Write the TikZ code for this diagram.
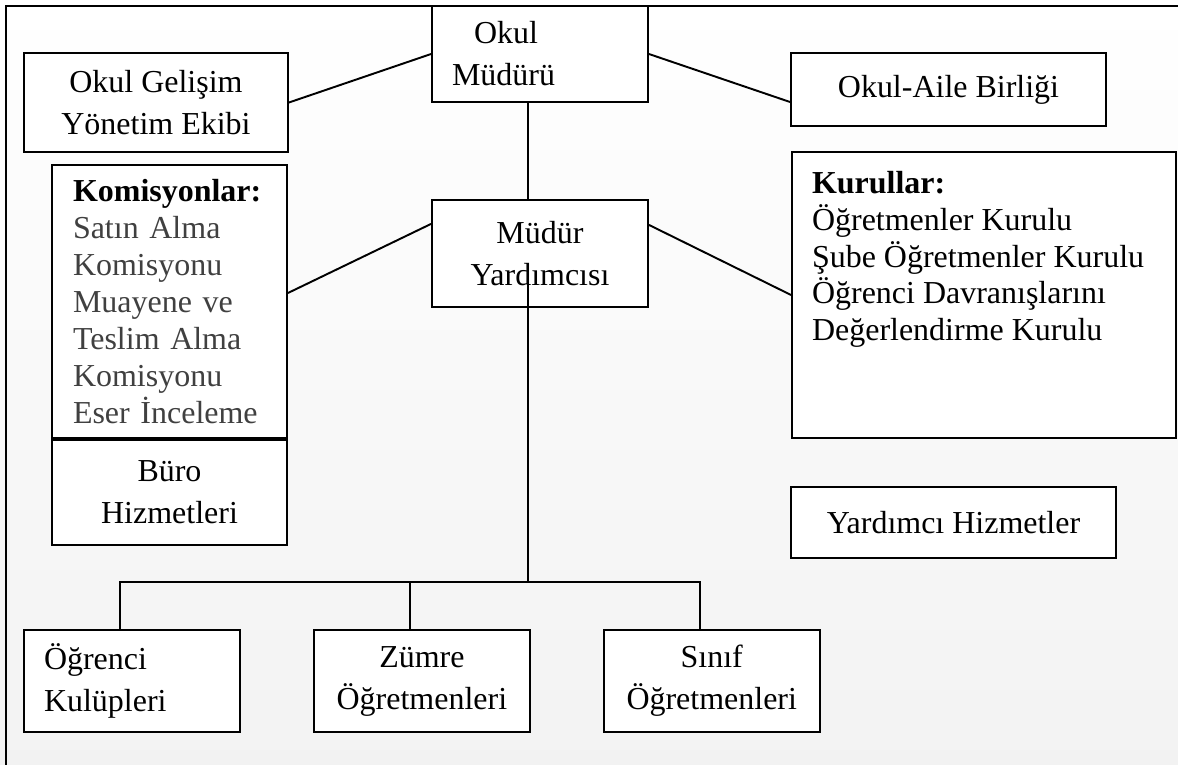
\documentclass[tikz,border=0pt]{standalone}
\usepackage{fontspec}
\setmainfont{Liberation Serif}
\usetikzlibrary{positioning,calc}
\newcommand{\orgfont}{\fontsize{18.2}{23.9}\selectfont}
\newcommand{\orglistfont}{\fontsize{18.2}{21}\selectfont}
\definecolor{listgray}{HTML}{404040}
\tikzset{
    orgbox/.style={draw, line width=1.1pt, fill=white, font=\orgfont,
        align=center, inner sep=0pt},
    leftbox/.style={orgbox, align=left, inner xsep=0.4cm},
    orgline/.style={line width=1.1pt}
}

\begin{document}
\begin{tikzpicture}[x=0.02cm, y=-0.02cm]
\useasboundingbox (0,0) rectangle (1178,765);
\shade[top color=white, bottom color=black!5] (0,0) rectangle (1178,765);
\draw[line width=1.3pt] (6,765) -- (6,6) -- (1178,6);

% top row
\node[leftbox, minimum height=1.92cm, text width=3.52cm] (mudur) at (540,54) {\hspace*{0.44cm}Okul\\Müdürü};
\node[orgbox, minimum width=5.28cm, minimum height=1.98cm] (ekip) at (156,102.5) {Okul Gelişim\\Yönetim Ekibi};
\node[orgbox, minimum width=6.3cm, minimum height=1.46cm] (aile) at (948.5,89.5) {Okul-Aile Birliği};

% second row
\node[orgbox, minimum width=4.32cm, minimum height=2.14cm, below=1.92cm of mudur] (yard) {Müdür\\Yardımcısı};
\node[leftbox, font=\orglistfont, text=listgray, inner xsep=0.42cm, text width=3.86cm,
    minimum height=5.46cm] (komisyon) at (169.5,301.5)
    {\textcolor{black}{\textbf{Komisyonlar:}}\\Satın Alma\\Komisyonu\\Muayene ve\\Teslim Alma\\Komisyonu\\Eser İnceleme};
\node[orgbox, minimum width=4.7cm, minimum height=2.1cm, below=0pt of komisyon] (buro) {Büro\\Hizmetleri};
\node[orgbox, font=\orglistfont, minimum width=7.68cm, minimum height=5.72cm] (kurul) at (984,295)
    {\parbox[c][4.96cm][t]{6.88cm}{\textbf{Kurullar:}\\Öğretmenler Kurulu\\Şube Öğretmenler Kurulu\\Öğrenci Davranışlarını\\Değerlendirme Kurulu}};
\node[orgbox, minimum width=6.5cm, minimum height=1.42cm] (yardhiz) at (953.5,522.5) {Yardımcı Hizmetler};

% bottom row
\node[leftbox, minimum height=2.04cm, text width=3.52cm] (kulup) at (132,681) {Öğrenci\\Kulüpleri};
\node[orgbox, minimum width=4.32cm, minimum height=2.04cm, right=1.44cm of kulup] (zumre) {Zümre\\Öğretmenleri};
\node[orgbox, minimum width=4.32cm, minimum height=2.04cm, right=1.44cm of zumre] (sinif) {Sınıf\\Öğretmenleri};

\draw[orgline] (mudur.west) -- (ekip.east);
\draw[orgline] (mudur.east) -- ([yshift=-0.25cm]aile.west);
\draw[orgline] ([xshift=-0.24cm]mudur.south) -- ([xshift=-0.24cm]yard.north);
\draw[orgline] ([yshift=0.59cm]yard.west) -- ([yshift=0.17cm]komisyon.east);
\draw[orgline] ([yshift=0.57cm]yard.east) -- (kurul.west);

\coordinate (bus) at (528,582);
\draw[orgline] ([xshift=-0.24cm,yshift=-0.57cm]yard.center) -- (bus);
\draw[orgline] ([xshift=-0.24cm]kulup.north) |- (bus);
\draw[orgline] ([xshift=-0.24cm]zumre.north) |- (bus);
\draw[orgline] ([xshift=-0.24cm]sinif.north) |- (bus);
\end{tikzpicture}
\end{document}
